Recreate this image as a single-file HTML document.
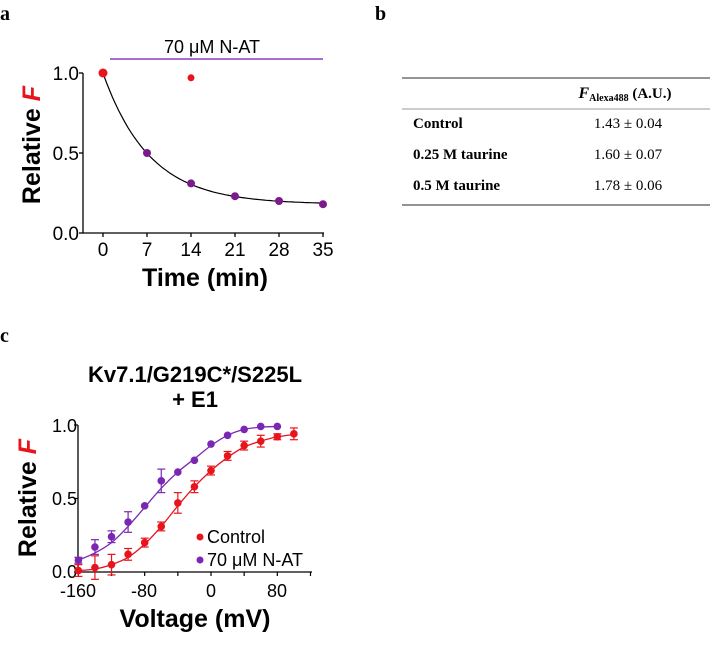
<!DOCTYPE html>
<html><head><meta charset="utf-8"><style>
body{margin:0;background:#fff;width:710px;height:646px;overflow:hidden}
svg{position:absolute;left:0;top:0}
</style></head><body>
<svg id="s" width="710" height="646" xmlns="http://www.w3.org/2000/svg" font-family="Liberation Sans, sans-serif">
<text x="0" y="20" font-family="Liberation Serif, serif" font-weight="bold" font-size="20">a</text>
<text x="375" y="20" font-family="Liberation Serif, serif" font-weight="bold" font-size="20">b</text>
<text x="0" y="342" font-family="Liberation Serif, serif" font-weight="bold" font-size="20">c</text>
<!-- panel a -->
<text x="212" y="53" font-size="18" text-anchor="middle">70 μM  N-AT</text>
<line x1="110" y1="59" x2="323" y2="59" stroke="#8a3cc8" stroke-width="1.5"/>
<path d="M83,73 V233 H324" fill="none" stroke="#000" stroke-width="1.3"/>
<g stroke="#000" stroke-width="1.3"><line x1="79" y1="73" x2="83" y2="73"/><line x1="79" y1="153" x2="83" y2="153"/><line x1="79" y1="233" x2="83" y2="233"/></g>
<g font-size="19" text-anchor="end"><text x="79" y="80">1.0</text><text x="79" y="160">0.5</text><text x="79" y="240">0.0</text></g>
<g font-size="19" text-anchor="middle" id="ax"></g>
<text x="205" y="286" font-size="25" font-weight="bold" text-anchor="middle">Time (min)</text>
<text transform="translate(40,145) rotate(-90)" font-size="25" font-weight="bold" text-anchor="middle">Relative <tspan fill="#e8141c" font-style="italic">F</tspan></text>
<path id="ca" fill="none" stroke="#000" stroke-width="1.2"/>
<g id="pa"></g>
<!-- panel b -->
<line x1="402" y1="78" x2="710" y2="78" stroke="#555" stroke-width="1.2"/>
<line x1="402" y1="109" x2="710" y2="109" stroke="#777" stroke-width="0.8"/>
<line x1="402" y1="205" x2="710" y2="205" stroke="#555" stroke-width="1.2"/>
<g font-family="Liberation Serif, serif" font-size="15">
<text x="625" y="98" text-anchor="middle" font-weight="bold"><tspan font-style="italic" font-size="16">F</tspan><tspan font-size="10" dy="3">Alexa488</tspan><tspan dy="-3"> (A.U.)</tspan></text>
<text x="413" y="128" font-weight="bold">Control</text><text x="628" y="128" text-anchor="middle">1.43 ± 0.04</text>
<text x="413" y="159" font-weight="bold">0.25 M taurine</text><text x="628" y="159" text-anchor="middle">1.60 ± 0.07</text>
<text x="413" y="190" font-weight="bold">0.5 M taurine</text><text x="628" y="190" text-anchor="middle">1.78 ± 0.06</text>
</g>
<!-- panel c -->
<text x="195" y="382" font-size="22" font-weight="bold" text-anchor="middle">Kv7.1/G219C*/S225L</text>
<text x="195" y="407" font-size="22" font-weight="bold" text-anchor="middle">+ E1</text>
<path d="M78,425 V572 H312" fill="none" stroke="#000" stroke-width="1.3"/>
<g stroke="#000" stroke-width="1.2"><line x1="74" y1="425" x2="78" y2="425"/><line x1="74" y1="498.5" x2="78" y2="498.5"/><line x1="74" y1="572" x2="78" y2="572"/></g>
<g font-size="18" text-anchor="end"><text x="77" y="432">1.0</text><text x="77" y="505">0.5</text><text x="77" y="578">0.0</text></g>
<g font-size="18" text-anchor="middle"><text x="78" y="597">-160</text><text x="144" y="597">-80</text><text x="211" y="597">0</text><text x="277" y="597">80</text></g>
<g id="cx" stroke="#000" stroke-width="1.2"></g>
<text x="195" y="627" font-size="25" font-weight="bold" text-anchor="middle">Voltage (mV)</text>
<text transform="translate(36,498) rotate(-90)" font-size="25" font-weight="bold" text-anchor="middle">Relative <tspan fill="#e8141c" font-style="italic">F</tspan></text>
<g id="pc"></g>
<circle cx="200" cy="537" r="3.5" fill="#e8141c"/><text x="207" y="543" font-size="18">Control</text>
<circle cx="200" cy="560" r="3.5" fill="#7a28b4"/><text x="207" y="566" font-size="18">70 μM N-AT</text>
</svg>
<script>
var NS="http://www.w3.org/2000/svg";
function el(p,t,a){var e=document.createElementNS(NS,t);for(var k in a)e.setAttribute(k,a[k]);document.getElementById(p).appendChild(e);return e;}
var s='s';
function xa(t){return 103+t*6.286;} function ya(v){return 233-v*160;}
[0,7,14,21,28,35].forEach(function(t){el(s,'line',{x1:xa(t),y1:233,x2:xa(t),y2:237,stroke:'#000','stroke-width':1.3});var e=el('ax','text',{x:xa(t),y:256});e.textContent=t;});
var d='';for(var t=0;t<=35;t+=0.5){var v=0.18+0.82*Math.exp(-t/7.4);d+=(t?'L':'M')+xa(t).toFixed(1)+','+ya(v).toFixed(1);}
document.getElementById('ca').setAttribute('d',d);
[[7,.5],[14,.31],[21,.23],[28,.2],[35,.18]].forEach(function(p){el('pa','circle',{cx:xa(p[0]),cy:ya(p[1]),r:4,fill:'#7a1a8c'});});
el('pa','circle',{cx:xa(0),cy:ya(1),r:4.5,fill:'#e8141c'});
el('pa','circle',{cx:xa(14),cy:ya(.97),r:3.5,fill:'#e8141c'});
function xc(V){return 211+V*0.829;} function yc(v){return 572-v*147;}
for(var V=-160;V<=120;V+=40){el('cx','line',{x1:xc(V),y1:572,x2:xc(V),y2:576});}
function spline(pts,col){var P=pts.map(function(p){return [xc(p[0]),yc(p[1])];});var d='M'+P[0][0].toFixed(1)+','+P[0][1].toFixed(1);
for(var i=0;i<P.length-1;i++){var p0=P[i>0?i-1:0],p1=P[i],p2=P[i+1],p3=P[i+2<P.length?i+2:i+1];
d+='C'+(p1[0]+(p2[0]-p0[0])/6).toFixed(1)+','+(p1[1]+(p2[1]-p0[1])/6).toFixed(1)+' '+(p2[0]-(p3[0]-p1[0])/6).toFixed(1)+','+(p2[1]-(p3[1]-p1[1])/6).toFixed(1)+' '+p2[0].toFixed(1)+','+p2[1].toFixed(1);}
el('pc','path',{d:d,fill:'none',stroke:col,'stroke-width':1.3});}
spline([[-160,.08],[-140,.13],[-120,.2],[-100,.31],[-80,.44],[-60,.57],[-40,.68],[-20,.77],[0,.86],[20,.93],[40,.97],[60,.985],[80,.99]],'#7a28b4');
spline([[-160,.01],[-140,.02],[-120,.05],[-100,.1],[-80,.19],[-60,.31],[-40,.45],[-20,.58],[0,.69],[20,.78],[40,.85],[60,.89],[80,.92],[100,.935]],'#e8141c');
var P=[[-160,.08,.02],[-140,.17,.05],[-120,.24,.04],[-100,.34,.07],[-80,.45,0],[-60,.62,.08],[-40,.68,0],[-20,.76,0],[0,.87,0],[20,.93,0],[40,.97,0],[60,.99,0],[80,.99,0]];
var R=[[-160,.01,.04],[-140,.03,.08],[-120,.05,.07],[-100,.12,.04],[-80,.2,.03],[-60,.31,.03],[-40,.47,.07],[-20,.58,.04],[0,.69,.03],[20,.79,.03],[40,.86,.03],[60,.89,.04],[80,.92,.02],[100,.94,.04]];
function pts(A,col){A.forEach(function(p){var x=xc(p[0]);if(p[2]){el('pc','line',{x1:x,y1:yc(p[1]-p[2]),x2:x,y2:yc(p[1]+p[2]),stroke:col,'stroke-width':1.2});[p[1]-p[2],p[1]+p[2]].forEach(function(q){el('pc','line',{x1:x-4,y1:yc(q),x2:x+4,y2:yc(q),stroke:col,'stroke-width':1.2});});}el('pc','circle',{cx:x,cy:yc(p[1]),r:3.8,fill:col});});}
pts(P,'#7a28b4');pts(R,'#e8141c');
</script>
</body></html>
